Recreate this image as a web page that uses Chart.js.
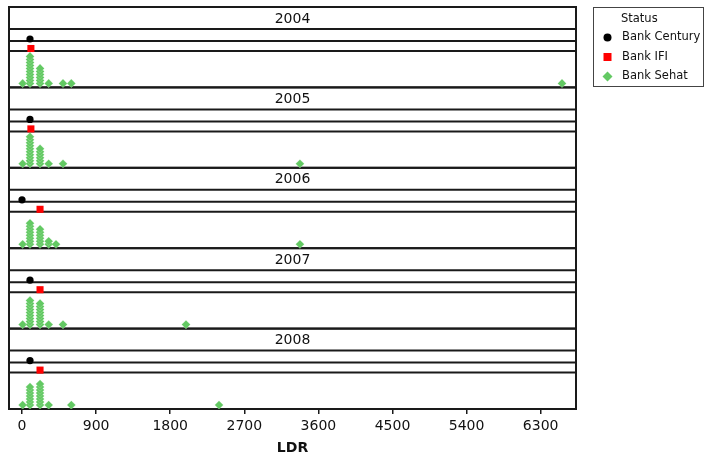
<!DOCTYPE html>
<html>
<head>
<meta charset="utf-8">
<script src="https://cdn.jsdelivr.net/npm/chart.js@4.4.1/dist/chart.umd.min.js"></script>
<style>
  html, body { margin: 0; padding: 0; background: #fff; }
  #wrap { width: 711px; height: 457px; }
</style>
</head>
<body>
<div id="wrap"><canvas id="dotplot"></canvas></div>
<script>
// data (LDR values, one entry per bank)
var years = ['2004', '2005', '2006', '2007', '2008'];
var statusLabels = ['Bank Century', 'Bank IFI', 'Bank Sehat'];
var xTicks = [0, 900, 1800, 2700, 3600, 4500, 5400, 6300];
var centuryLDR = [97, 97, 0, 97, 97];
var ifiLDR = [108, 108, 219, 219, 219];
var sehat2004 = [8, 97, 97, 97, 97, 97, 97, 97, 97, 97, 97, 219, 219, 219, 219, 219, 219, 324, 498, 599, 6559];
var sehat2005 = [8, 97, 97, 97, 97, 97, 97, 97, 97, 97, 97, 219, 219, 219, 219, 219, 219, 324, 498, 3376];
var sehat2006 = [8, 97, 97, 97, 97, 97, 97, 97, 97, 219, 219, 219, 219, 219, 219, 324, 324, 413, 3376];
var sehat2007 = [8, 97, 97, 97, 97, 97, 97, 97, 97, 97, 219, 219, 219, 219, 219, 219, 219, 219, 324, 498, 1992];
var sehat2008 = [8, 97, 97, 97, 97, 97, 97, 97, 219, 219, 219, 219, 219, 219, 219, 219, 324, 599, 2393];
var sehatLDR = [sehat2004, sehat2005, sehat2006, sehat2007, sehat2008];

var colors = ['#000000', '#ff0000', '#63c963'];

// panel layout (pixels)
var PANEL_H = 80.4;
var HEADER_B = 22;   // bottom of year strip
var CENTURY_B = 34;  // bottom of Bank Century row
var IFI_B = 44;      // bottom of Bank IFI row
var STEP = 3;        // stacking step of dots

var centuryPts = [], ifiPts = [], sehatPts = [];
years.forEach(function(yr, i) {
    var top = i * PANEL_H;
    centuryPts.push({x: centuryLDR[i], y: top + CENTURY_B - 2});
    ifiPts.push({x: ifiLDR[i], y: top + IFI_B - 2.5});
    var seen = {};
    sehatLDR[i].forEach(function(v) {
        var k = seen[v] || 0;
        seen[v] = k + 1;
        sehatPts.push({x: v, y: top + PANEL_H - 4 - STEP * k});
    });
});

var panelFrames = {
    id: 'panelFrames',
    beforeDatasetsDraw: function(chart) {
        var ctx = chart.ctx, a = chart.chartArea, ys = chart.scales.y;
        ctx.save();
        ctx.strokeStyle = '#1a1a1a';
        ctx.lineWidth = 2;
        years.forEach(function(yr, i) {
            var top = ys.getPixelForValue(i * PANEL_H);
            var bot = ys.getPixelForValue((i + 1) * PANEL_H);
            ctx.strokeRect(a.left, top, a.right - a.left, bot - top);
            [HEADER_B, CENTURY_B, IFI_B].forEach(function(b) {
                var y = ys.getPixelForValue(i * PANEL_H + b);
                ctx.beginPath();
                ctx.moveTo(a.left, y);
                ctx.lineTo(a.right, y);
                ctx.stroke();
            });
            ctx.fillStyle = '#111';
            ctx.font = '14px "DejaVu Sans"';
            ctx.textAlign = 'center';
            ctx.textBaseline = 'middle';
            ctx.fillText(yr, (a.left + a.right) / 2, top + HEADER_B / 2 + 1);
        });
        ctx.restore();
    },
    afterDraw: function(chart) {
        var ctx = chart.ctx;
        ctx.save();
        ctx.strokeStyle = '#444';
        ctx.lineWidth = 1;
        ctx.strokeRect(593.5, 7.5, 110, 79);
        ctx.font = '11.5px "DejaVu Sans"';
        ctx.fillStyle = '#111';
        ctx.textAlign = 'left';
        ctx.textBaseline = 'middle';
        ctx.fillText('Status', 621, 19);
        statusLabels.forEach(function(lbl, i) {
            var y = 37.5 + i * 19.5, x = 607.5;
            ctx.fillStyle = colors[i];
            ctx.beginPath();
            if (i === 0) {
                ctx.arc(x, y, 4, 0, Math.PI * 2);
            } else if (i === 1) {
                ctx.rect(x - 4, y - 4, 8, 8);
            } else {
                ctx.moveTo(x - 5, y); ctx.lineTo(x, y - 5); ctx.lineTo(x + 5, y); ctx.lineTo(x, y + 5);
                ctx.closePath();
            }
            ctx.fill();
            ctx.fillStyle = '#111';
            ctx.fillText(lbl, 622, y);
        });
        ctx.restore();
    }
};

new Chart(document.getElementById('dotplot').getContext('2d'), {
    type: 'scatter',
    data: {
        datasets: [{
            label: statusLabels[0],
            data: centuryPts,
            pointStyle: 'circle',
            pointRadius: 3.6,
            backgroundColor: colors[0],
            borderColor: colors[0],
            borderWidth: 0
        }, {
            label: statusLabels[1],
            data: ifiPts,
            pointStyle: 'rect',
            pointRadius: 5,
            backgroundColor: colors[1],
            borderColor: colors[1],
            borderWidth: 0
        }, {
            label: statusLabels[2],
            data: sehatPts,
            pointStyle: 'rectRot',
            pointRadius: 4.3,
            backgroundColor: colors[2],
            borderColor: 'rgba(230,248,230,0.45)',
            borderWidth: 0.5
        }]
    },
    options: {
        responsive: true,
        maintainAspectRatio: false,
        animation: false,
        layout: { padding: { left: 9, right: 135, top: 7, bottom: 0 } },
        plugins: { legend: { display: false }, tooltip: { enabled: false } },
        scales: {
            x: {
                type: 'linear',
                min: -158,
                max: 6729,
                afterFit: function(scale) { scale.height = 48; },
                afterBuildTicks: function(scale) {
                    scale.ticks = xTicks.map(function(v) { return {value: v}; });
                },
                grid: { drawOnChartArea: false, drawTicks: true, tickLength: 5, color: '#1a1a1a', lineWidth: 1.5 },
                border: { display: true, color: '#1a1a1a', width: 2 },
                ticks: {
                    autoSkip: false,
                    maxRotation: 0,
                    padding: 4,
                    color: '#111',
                    font: { family: 'DejaVu Sans', size: 14 },
                    callback: function(v) { return String(v); }
                },
                title: {
                    display: true,
                    text: 'LDR',
                    color: '#111',
                    padding: { top: 0, bottom: 0 },
                    font: { family: 'DejaVu Sans', size: 14, weight: 'bold' }
                }
            },
            y: {
                display: false,
                min: 0,
                max: PANEL_H * years.length,
                reverse: true
            }
        }
    },
    plugins: [panelFrames]
});
</script>
</body>
</html>
